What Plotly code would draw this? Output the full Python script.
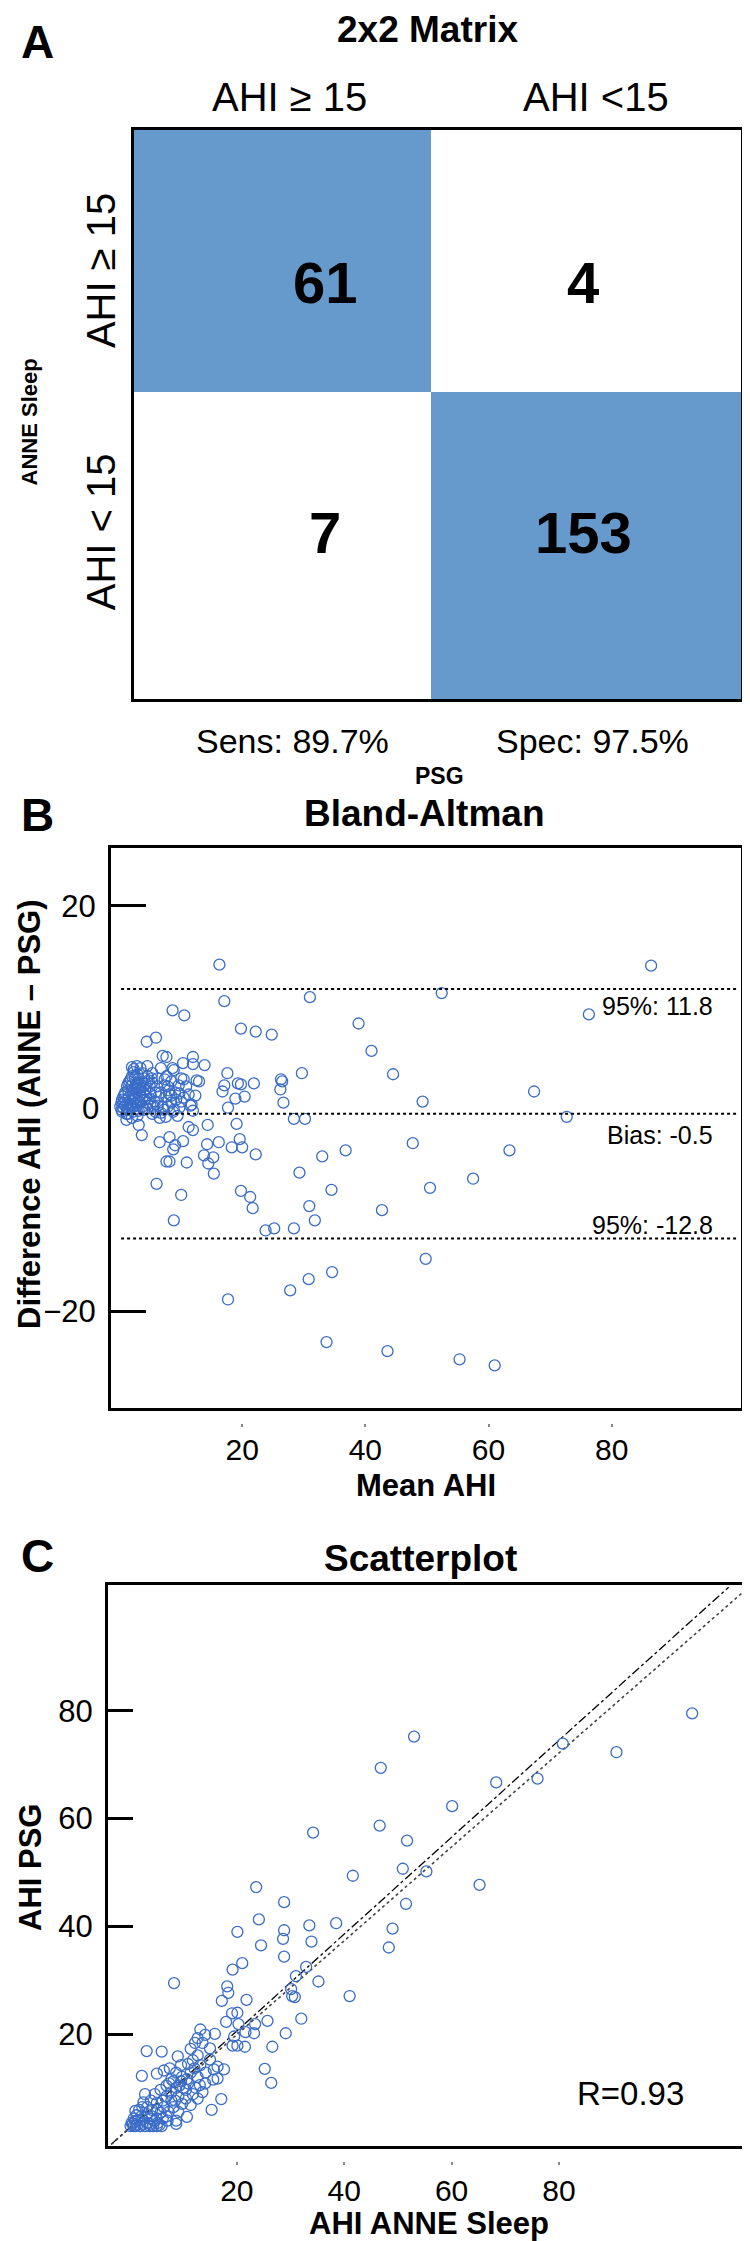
import plotly.graph_objects as go

# ---------------- DATA ----------------
# Panel A: 2x2 matrix (rows: ANNE Sleep, cols: PSG)
col_labels = ["AHI \u2265 15", "AHI <15"]
row_labels = ["AHI \u2265 15", "AHI < 15"]
counts = [[61, 4], [7, 153]]
sens_spec = ["Sens: 89.7%", "Spec: 97.5%"]

# Panel B: Bland-Altman (mean AHI, difference ANNE - PSG)
ba_mean = [16.3, 86.4, 52.4, 31.0, 17.1, 76.3, 8.7, 10.6, 38.9, 19.8, 22.2, 24.8, 4.5, 6.0, 41.0,
           7.1, 7.7, 12.0, 44.5, 29.7, 17.6, 26.3, 26.5, 26.2, 26.7, 67.4, 49.3, 72.7, 17.1, 16.8,
           19.3, 19.8, 21.9, 20.4, 18.9, 17.7, 28.4, 30.2, 19.1, 19.6, 18.3, 20.0, 22.2, 16.2, 14.3,
           13.8, 15.3, 14.5, 15.4, 33.0, 36.8, 29.3, 47.7, 63.4, 57.5, 50.5, 34.5, 19.8, 21.3, 21.7,
           30.9, 31.8, 42.7, 23.8, 25.2, 28.4, 49.8, 34.6, 30.8, 27.8, 17.7, 33.7, 43.6, 55.3, 61.0,
           6.1, 10.1, 8.9, 11.0, 7.7, 8.2, 3.7, 6.6, 8.8, 9.1, 8.2, 10.4, 11.3, 12.0, 3.2, 14.4,
           13.9, 12.0, 10.4, 8.9, 8.7, 6.8, 4.6, 2.9, 2.4, 3.5, 4.8, 5.4, 7.4, 7.9, 8.5, 8.2, 7.7,
           10.1, 10.5, 9.7, 12.6, 13.0, 11.3, 12.4, 11.8, 12.0, 11.6, 9.5, 8.8, 7.3, 6.6, 6.8, 5.5,
           4.6, 4.2, 5.0, 5.8, 5.9, 6.4, 7.1, 1.5, 0.7, 0.4, 0.7, 1.0, 1.3, 1.7, 2.1, 2.4, 2.1, 3.0,
           3.2, 3.7, 4.0, 2.6, 2.0, 2.4, 2.7, 1.5, 1.2, 1.2, 2.1, 3.0, 3.8, 4.3, 5.0, 5.3, 4.1, 1.0,
           1.6, 2.3, 2.9, 3.4, 3.4, 4.0, 0.5, 2.7, 1.9, 1.0, 0.2, 0.4, 1.3, 2.3, 3.2, 8.5, 9.3, 7.9,
           9.8, 6.3, 5.4, 6.3, 7.7, 8.5, 9.1, 9.8, 10.5, 6.2, 6.8, 4.6, 3.8, 3.0, 2.1, 1.5, 2.1, 2.7,
           3.4, 4.6, 5.1, 0.7, 2.0, 2.4, 1.5, 2.9, 2.6, 3.5, 4.3, 5.4, 7.4, 8.1, 10.9, 10.1, 8.9,
           7.6, 5.9, 5.1, 4.1, 0.5, 0.9, 1.5, 1.9, 2.7, 3.0, 3.2, 3.8, 4.4]
ba_diff = [14.2, 14.1, 11.4, 11.0, 10.6, 9.3, 9.7, 9.2, 8.4, 7.9, 7.6, 7.3, 6.6, 7.0, 5.7,
           5.2, 5.1, 5.1, 3.4, 3.5, 3.5, 2.9, 2.7, 1.9, 0.6, 1.7, 0.7, -0.8, 2.3, 1.7,
           2.5, 2.4, 2.5, 1.2, 1.0, 0.1, -1.0, -1.0, -1.5, -3.0, -3.8, -3.8, -4.5, -3.3, -3.5,
           -4.6, -4.8, -5.4, -6.4, -4.7, -4.1, -6.3, -3.4, -4.1, -6.9, -7.8, -8.0, -8.1, -8.7, -9.8,
           -9.6, -11.0, -10.0, -12.0, -11.8, -11.8, -14.8, -16.1, -16.8, -17.9, -18.8, -23.0, -23.9, -24.7, -25.3,
           -7.4, -8.5, -11.0, -5.3, -5.2, -5.2, -2.6, -3.3, -4.0, -3.6, -2.8, -3.2, -1.8, -2.1, -1.6, -1.6,
           4.3, 4.4, 4.5, 3.8, 4.0, 4.0, 4.2, 4.2, 3.9, 4.0, 2.8, 2.6, 2.3, 2.2, 1.3, 1.4, 1.2,
           3.0, 2.9, 2.3, 2.8, 2.7, 1.4, 1.3, 0.4, -0.2, 0.3, -0.7, -0.3, -0.1, -0.9, -0.4, 0.2,
           0.0, 0.9, 1.0, 0.7, 1.6, 1.2, 0.2, 0.0, 0.1, 0.6, 1.2, 1.6, 2.2, 2.7, 3.2, 3.6, 4.1, 3.4,
           3.0, 2.6, 2.2, 2.0, 1.5, 1.0, 0.6, 0.6, -0.5, -1.1, -0.9, -0.7, 0.2, 1.8, 2.2, 3.0, 3.0, 0.8,
           1.1, 1.3, 1.6, 1.3, 1.8, 1.6, -0.3, 0.0, 0.3, 0.3, 0.2, -0.1, -0.1, -0.3, -0.2, 0.6, 0.9, 0.2,
           0.1, 0.3, -0.5, 3.0, 3.2, 2.7, 1.6, 1.5, 1.1, 2.2, 1.6, 3.2, 3.5, 2.5, 2.3, 1.8, 1.8, 1.0,
           0.6, 0.6, 1.5, 0.5, 0.2, 0.2, -0.5, 0.3, 3.0, 2.3, 2.5, 3.5, 2.9, 1.8, 2.2, 0.7, -0.1,
           -0.8, -0.3, 0.3, -0.1, 0.9, 1.4, 2.5, 2.9, 2.3, 2.0, 0.8, 1.1, 1.3]
ba_limits = [11.8, -0.5, -12.8]
ba_limit_labels = ["95%: 11.8", "Bias: -0.5", "95%: -12.8"]

# Panel C: scatterplot (AHI ANNE Sleep vs AHI PSG)
sc_anne = [104.8, 53.0, 80.7, 90.7, 46.8, 76.0, 68.3, 60.1, 46.6, 34.2, 51.7, 50.9, 55.3, 41.6, 65.2,
           23.6, 28.8, 51.5, 24.1, 38.5, 33.5, 49.0, 28.8, 20.1, 28.6, 33.9, 24.5, 48.3, 28.8, 21.0,
           32.9, 19.2, 31.0, 35.2, 8.3, 18.2, 30.1, 18.4, 30.3, 30.8, 41.0, 17.2, 21.8, 32.0, 25.7,
           18.0, 19.1, 20.1, 20.3, 23.4, 23.2, 21.6, 29.1, 19.5, 13.2, 14.1, 12.7, 12.2, 13.6, 15.9,
           15.0, 19.2, 20.1, 21.5, 26.6, 3.2, 6.0, 9.0, 11.8, 13.2, 9.6, 16.4, 17.6, 15.7, 25.2,
           2.3, 5.1, 6.4, 7.5, 26.4, 15.6, 16.4, 14.1, 13.1, 17.1, 15.3, 10.7, 8.7,
           11.4, 9.8, 8.2, 9.3, 10.5, 11.8, 11.4, 9.8, 8.5, 7.8, 6.9, 6.4, 5.8, 7.3, 5.1, 4.2, 3.3,
           2.6, 2.4, 3.8, 4.7, 5.6, 4.4, 3.3, 2.0, 0.8, 0.4, 0.8, 1.5, 2.4, 1.3, 1.1, 2.9, 3.8, 5.1,
           6.0, 0.2, 6.2, 6.9, 8.2, 9.1, 10.0, 10.9, 12.3, 12.7, 10.9, 7.8, 6.9, 5.8, 4.7, 4.0, 5.1,
           7.8, 9.1, 10.5, 12.7, 13.6, 14.2, 15.0, 12.7, 11.4, 2.9, 1.8, 1.1, 2.2, 4.2, 5.1, 1.5,
           2.4, 3.8, 5.3, 0.6, 1.1, 3.3, 8.7, 9.6, 10.7, 12.1, 8.7, 7.4, 6.2, 8.7, 7.1]
sc_psg = [79.5, 75.2, 73.9, 72.3, 69.4, 67.4, 66.7, 62.3, 58.7, 57.4, 55.9, 50.7, 50.2, 49.4, 47.7,
          47.3, 44.5, 44.2, 41.3, 40.6, 40.2, 39.6, 39.3, 39.0, 37.7, 37.2, 36.5, 36.1, 34.4, 33.2,
          32.5, 32.0, 30.8, 29.8, 29.5, 28.9, 28.4, 27.7, 27.1, 26.9, 27.1, 26.2, 26.4, 22.9, 22.5,
          22.3, 23.9, 24.0, 21.9, 21.9, 20.2, 20.4, 20.2, 19.6, 20.9, 19.9, 19.3, 18.4, 18.4, 20.1,
          17.4, 17.9, 17.9, 17.7, 17.7, 16.9, 16.8, 15.9, 15.2, 14.3, 14.3, 14.0, 13.5, 13.5, 13.6,
          12.3, 12.7, 13.3, 13.7, 11.0, 11.6, 11.8, 10.9, 10.6, 8.0, 6.0, 4.7, 3.4,
          12.9, 12.1, 11.3, 10.5, 9.7, 8.9, 6.9, 7.1, 7.7, 9.3, 8.5, 6.5, 5.5, 5.6, 7.3, 6.0, 5.2,
          7.4, 6.5, 4.4, 3.9, 3.2, 3.0, 3.6, 3.0, 3.0, 3.6, 4.4, 4.0, 4.2, 5.0, 3.0, 3.0, 3.0, 3.0,
          3.0, 3.0, 4.4, 4.8, 6.5, 8.5, 10.1, 10.9, 10.1, 12.1, 14.5, 11.7, 10.5, 9.7, 8.9, 7.7, 6.0,
          7.7, 5.6, 8.1, 8.1, 9.3, 12.9, 15.3, 16.1, 17.3, 8.9, 6.0, 5.8, 4.8, 4.8, 4.4, 3.2,
          3.4, 3.4, 3.6, 3.4, 3.9, 6.5, 10.1, 11.3, 11.7, 13.7, 12.9, 10.9, 7.7, 4.0, 4.0]
sc_line_dashdot_x = [-3.4, 111.6]
sc_line_dashdot_y = [-0.4, 102.9]
sc_line_dot_x = [-3.4, 114.3]
sc_line_dot_y = [-0.4, 102.0]
sc_r_label = "R=0.93"
x_ticks = [20, 40, 60, 80]

# ---------------- LAYOUT HELPERS ----------------
W, H = 750, 2241
FONT = "Liberation Sans, Arial, sans-serif"
BLUE_FILL = "#6699cc"
MARKER_BLUE = "#3a6cc8"

# Panel A geometry (pixels)
A_LEFT, A_RIGHT, A_TOP, A_BOTTOM = 126, 733, 122, 691
A_COL_SPLIT, A_ROW_SPLIT = 0.49, 0.46   # fraction of box width/height


def px(x):
    return x / W


def py(y):
    return 1 - y / H


def ay(frac):
    return A_TOP + frac * (A_BOTTOM - A_TOP)


def ax(frac):
    return A_LEFT + frac * (A_RIGHT - A_LEFT)


fig = go.Figure()

# ---------------- Panel A ----------------
z = [[1 if i == j else 0 for j in range(2)] for i in range(2)]
fig.add_trace(go.Heatmap(
    z=z, x=[0, A_COL_SPLIT, 1], y=[0, A_ROW_SPLIT, 1],
    colorscale=[[0, "white"], [1, BLUE_FILL]], showscale=False,
    hoverinfo="skip", xaxis="x", yaxis="y"))

annotations = []


def ann(text, x, y, size, bold=False, angle=0, xanchor="center", family=FONT):
    t = f"<b>{text}</b>" if bold else text
    annotations.append(dict(text=t, x=px(x), y=py(y), xref="paper", yref="paper",
                            showarrow=False, textangle=angle, xanchor=xanchor, yanchor="middle",
                            font=dict(size=size, color="black", family=family)))


num_x = [ax(0.315), ax(0.74)]
num_y = [ay(0.268), ay(0.707)]
for i in range(2):
    for j in range(2):
        ann(str(counts[i][j]), num_x[j], num_y[i], 58, bold=True)

# ---------------- Panel B ----------------
fig.add_trace(go.Scatter(
    x=ba_mean, y=ba_diff, mode="markers", xaxis="x2", yaxis="y2",
    marker=dict(symbol="circle-open", size=11, color=MARKER_BLUE, line=dict(width=1.3)),
    showlegend=False, hoverinfo="skip"))
# invisible copy bound to the detached tick-dot axis
fig.add_trace(go.Scatter(
    x=ba_mean, y=ba_diff, mode="markers", xaxis="x4", yaxis="y2",
    marker=dict(opacity=0), showlegend=False, hoverinfo="skip"))

shapes = []
for v in ba_limits:
    shapes.append(dict(type="line", xref="x2 domain", yref="y2", x0=0.016, x1=0.995, y0=v, y1=v,
                       line=dict(color="black", width=2, dash="dot")))
for v, lab, dy in zip(ba_limits, ba_limit_labels, [-17, -21, 14]):
    annotations.append(dict(x=0.958, y=v, xref="x2 domain", yref="y2", text=lab, showarrow=False,
                            xanchor="right", yanchor="middle", yshift=dy,
                            font=dict(size=25, color="black", family=FONT)))
# "0" tick label of the difference axis (drawn without a tick mark, as in the reference)
annotations.append(dict(x=px(93), y=0, xref="paper", yref="y2", text="0", showarrow=False,
                        xanchor="right", yanchor="middle", font=dict(size=31, color="black", family=FONT)))

# ---------------- Panel C ----------------
fig.add_trace(go.Scatter(
    x=sc_line_dashdot_x, y=sc_line_dashdot_y, mode="lines", xaxis="x3", yaxis="y3",
    line=dict(color="black", width=1.3, dash="dashdot"), showlegend=False, hoverinfo="skip"))
fig.add_trace(go.Scatter(
    x=sc_line_dot_x, y=sc_line_dot_y, mode="lines", xaxis="x3", yaxis="y3",
    line=dict(color="#444444", width=1.6, dash="dot"), showlegend=False, hoverinfo="skip"))
fig.add_trace(go.Scatter(
    x=sc_anne, y=sc_psg, mode="markers", xaxis="x3", yaxis="y3",
    marker=dict(symbol="circle-open", size=11, color=MARKER_BLUE, line=dict(width=1.3)),
    showlegend=False, hoverinfo="skip"))
fig.add_trace(go.Scatter(
    x=sc_anne, y=sc_psg, mode="markers", xaxis="x5", yaxis="y3",
    marker=dict(opacity=0), showlegend=False, hoverinfo="skip"))
annotations.append(dict(x=0.903, y=0.094, xref="x3 domain", yref="y3 domain", text=sc_r_label,
                        showarrow=False, xanchor="right", yanchor="middle",
                        font=dict(size=33, color="black", family=FONT)))

# Panel letters
ann("A", 29, 34, 46, bold=True)
ann("B", 29, 807, 46, bold=True)
ann("C", 29, 1548, 46, bold=True)
# Titles
ann("2x2 Matrix", 419, 21, 37, bold=True)
ann("Bland-Altman", 416, 805, 37, bold=True)
ann("Scatterplot", 412, 1550, 37, bold=True)

# Panel A labels
ann(col_labels[0], 281, 89, 40)
ann(col_labels[1], 588, 89, 40)
ann(row_labels[0], 93, ay(0.248), 40, angle=-90)
ann(row_labels[1], 93, ay(0.707), 40, angle=-90)
ann("ANNE Sleep", 21, ay(0.514), 22, bold=True, angle=-90)
ann(sens_spec[0], 284, 733, 34)
ann(sens_spec[1], 584, 733, 34)
ann("PSG", 432, 768, 23, bold=True)

# Panel B axis titles
ann("Difference AHI (ANNE \u2013 PSG)", 21, 1106, 31, bold=True, angle=-90)
ann("Mean AHI", 418, 1477, 31, bold=True)
# Panel C axis titles
ann("AHI PSG", 22, 1860, 31, bold=True, angle=-90)
ann("AHI ANNE Sleep", 421, 2215, 31, bold=True)

box_axis = dict(showline=True, linewidth=3, linecolor="black", mirror=True,
                showgrid=False, zeroline=False)
dot_axis = dict(anchor="free", tickvals=x_ticks, ticks="outside", ticklen=3, tickwidth=2,
                tickcolor="#888888", showticklabels=False, showline=False, showgrid=False,
                zeroline=False)

fig.update_layout(
    width=W, height=H, margin=dict(l=0, r=0, t=0, b=0),
    paper_bgcolor="white", plot_bgcolor="white",
    font=dict(family=FONT, color="black"),
    showlegend=False,
    # Panel A
    xaxis=dict(domain=[px(A_LEFT), px(A_RIGHT)], range=[0, 1], showticklabels=False, ticks="",
               **box_axis),
    yaxis=dict(domain=[py(A_BOTTOM), py(A_TOP)], range=[1, 0], showticklabels=False, ticks="",
               **box_axis),
    # Panel B
    xaxis2=dict(domain=[px(103), px(733)], range=[-1.3, 101], anchor="y2",
                tickvals=x_ticks, ticks="", tickfont=dict(size=30),
                ticklabelstandoff=13, **box_axis),
    xaxis4=dict(domain=[px(103), px(733)], range=[-1.3, 101], overlaying="x2",
                position=py(1415), **dot_axis),
    yaxis2=dict(domain=[py(1400), py(840)], range=[-29.5, 25.7], anchor="x2",
                tickvals=[-20, 20], ticks="inside", ticklen=35, tickwidth=3, tickcolor="black",
                tickfont=dict(size=31), ticklabelstandoff=6, **box_axis),
    # Panel C
    xaxis3=dict(domain=[px(100), px(740)], range=[-4, 115.2], anchor="y3",
                tickvals=x_ticks, ticks="", tickfont=dict(size=30),
                ticklabelstandoff=16, **box_axis),
    xaxis5=dict(domain=[px(100), px(740)], range=[-4, 115.2], overlaying="x3",
                position=py(2153), **dot_axis),
    yaxis3=dict(domain=[py(2138), py(1577)], range=[-0.7, 103.3], anchor="x3",
                tickvals=[20, 40, 60, 80], ticks="inside", ticklen=25, tickwidth=3, tickcolor="black",
                tickfont=dict(size=31), ticklabelstandoff=6, **box_axis),
    annotations=annotations,
    shapes=shapes,
)

fig.write_html("out.html")
